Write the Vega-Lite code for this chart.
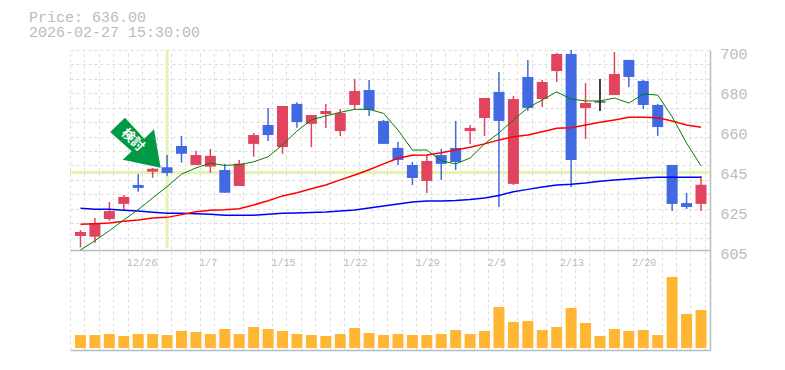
{"$schema":"https://vega.github.io/schema/vega-lite/v6.json","width":640,"height":300,"autosize":"none","padding":{"left":70,"top":50,"right":75,"bottom":20},"background":"#ffffff","view":{"stroke":null},
"title":{"text":["Price: 636.00","2026-02-27 15:30:00"],"anchor":"start","frame":"group","dx":-41,"offset":6,"font":"Liberation Mono","fontSize":15,"fontWeight":"normal","color":"#bbbbbb","lineHeight":15.5},
"datasets":{"main":[
{"i":0,"date":"12/22","dir":"up","open":611.65,"high":614.5,"low":606.3,"close":613.55,"volume":13000,"ma5":605,"ma25":617.2,"ma75":624.8},
{"i":1,"date":"12/23","dir":"up","open":611.3,"high":620.2,"low":608.5,"close":617.8,"volume":13000,"ma5":609.4,"ma25":617.5,"ma75":624.3},
{"i":2,"date":"12/24","dir":"up","open":619.7,"high":627.8,"low":618.9,"close":623.5,"volume":14000,"ma5":614.2,"ma25":617.8,"ma75":624.3},
{"i":3,"date":"12/25","dir":"up","open":626.9,"high":631.1,"low":623.5,"close":630.2,"volume":12000,"ma5":619.3,"ma25":618.6,"ma75":623.9},
{"i":4,"date":"12/26","dir":"down","open":635.9,"high":641.1,"low":632.7,"close":634.5,"volume":14000,"ma5":624.2,"ma25":619.3,"ma75":623.5},
{"i":5,"date":"12/29","dir":"up","open":642.2,"high":644,"low":639.3,"close":643.6,"volume":14000,"ma5":629.7,"ma25":620.2,"ma75":622.9},
{"i":6,"date":"12/30","dir":"down","open":644.3,"high":650.1,"low":640.3,"close":641.6,"volume":13000,"ma5":635.1,"ma25":620.5,"ma75":622.4},
{"i":7,"date":"1/5","dir":"down","open":654.4,"high":659.2,"low":646.5,"close":650.7,"volume":17000,"ma5":641,"ma25":621.8,"ma75":622.4},
{"i":8,"date":"1/6","dir":"up","open":645.4,"high":652.2,"low":645.4,"close":650.1,"volume":16000,"ma5":644,"ma25":623.2,"ma75":622.2},
{"i":9,"date":"1/7","dir":"up","open":644.6,"high":653,"low":641.7,"close":649.7,"volume":14000,"ma5":646.2,"ma25":623.9,"ma75":622},
{"i":10,"date":"1/8","dir":"down","open":643,"high":645.9,"low":632.2,"close":632.2,"volume":19000,"ma5":645.2,"ma25":624.1,"ma75":621.5},
{"i":11,"date":"1/9","dir":"up","open":635.4,"high":647.8,"low":635.4,"close":646,"volume":14000,"ma5":645.5,"ma25":624.6,"ma75":621.5},
{"i":12,"date":"1/13","dir":"up","open":655.4,"high":660.6,"low":649.3,"close":659.6,"volume":21000,"ma5":646.9,"ma25":626.4,"ma75":621.5},
{"i":13,"date":"1/14","dir":"down","open":664.4,"high":672.5,"low":656.8,"close":659.6,"volume":19000,"ma5":649.3,"ma25":628.4,"ma75":622},
{"i":14,"date":"1/15","dir":"up","open":653.9,"high":673.4,"low":650.7,"close":673.4,"volume":17000,"ma5":654.9,"ma25":630.7,"ma75":622.4},
{"i":15,"date":"1/16","dir":"down","open":674.4,"high":675.2,"low":663.1,"close":665.8,"volume":14000,"ma5":661.5,"ma25":632.2,"ma75":622.6},
{"i":16,"date":"1/19","dir":"up","open":664.9,"high":669.1,"low":653.9,"close":669.1,"volume":13000,"ma5":666.8,"ma25":634.1,"ma75":622.8},
{"i":17,"date":"1/20","dir":"up","open":669.6,"high":674.4,"low":663,"close":671,"volume":12000,"ma5":668.7,"ma25":635.9,"ma75":623},
{"i":18,"date":"1/21","dir":"up","open":661.5,"high":672,"low":659.2,"close":670.1,"volume":14000,"ma5":670.4,"ma25":638.3,"ma75":623.5},
{"i":19,"date":"1/22","dir":"up","open":673.9,"high":686.2,"low":672,"close":680.5,"volume":20000,"ma5":671.8,"ma25":640.6,"ma75":624},
{"i":20,"date":"1/23","dir":"down","open":681,"high":685.8,"low":668.7,"close":671.5,"volume":15000,"ma5":671.8,"ma25":643.1,"ma75":625},
{"i":21,"date":"1/26","dir":"down","open":666.3,"high":666.8,"low":655.4,"close":655.4,"volume":13000,"ma5":669.9,"ma25":645.9,"ma75":625.9},
{"i":22,"date":"1/27","dir":"down","open":653.5,"high":656.3,"low":645.4,"close":647.8,"volume":14000,"ma5":662,"ma25":648.6,"ma75":626.9},
{"i":23,"date":"1/28","dir":"down","open":645.4,"high":646.8,"low":635.9,"close":639.2,"volume":13000,"ma5":652.5,"ma25":650,"ma75":627.8},
{"i":24,"date":"1/29","dir":"up","open":637.8,"high":650.1,"low":632.1,"close":647.3,"volume":13000,"ma5":652.5,"ma25":650.1,"ma75":628.3},
{"i":25,"date":"1/30","dir":"down","open":650.1,"high":653,"low":638.3,"close":645.9,"volume":14000,"ma5":647.4,"ma25":651.2,"ma75":628.3},
{"i":26,"date":"2/2","dir":"down","open":653.5,"high":666.3,"low":643,"close":646.8,"volume":18000,"ma5":645.9,"ma25":652.5,"ma75":628.5},
{"i":27,"date":"2/3","dir":"up","open":661.5,"high":664.4,"low":655.4,"close":663,"volume":14000,"ma5":648.7,"ma25":653.8,"ma75":629},
{"i":28,"date":"2/4","dir":"up","open":667.7,"high":677.2,"low":659.2,"close":677.2,"volume":17000,"ma5":655.4,"ma25":655.4,"ma75":629.7},
{"i":29,"date":"2/5","dir":"down","open":680.1,"high":689.6,"low":625.4,"close":666.3,"volume":41000,"ma5":660.6,"ma25":657.3,"ma75":630.9},
{"i":30,"date":"2/6","dir":"up","open":636.4,"high":678.2,"low":635.9,"close":676.7,"volume":26000,"ma5":666.8,"ma25":658.8,"ma75":632.7},
{"i":31,"date":"2/9","dir":"down","open":687.2,"high":695.3,"low":671,"close":672.5,"volume":27000,"ma5":672.5,"ma25":659.6,"ma75":633.8},
{"i":32,"date":"2/10","dir":"up","open":676.7,"high":685.8,"low":672.9,"close":684.8,"volume":18000,"ma5":676.3,"ma25":661.2,"ma75":634.9},
{"i":33,"date":"2/12","dir":"up","open":690,"high":698.6,"low":684.8,"close":698.1,"volume":21000,"ma5":680.1,"ma25":662.8,"ma75":635.9},
{"i":34,"date":"2/13","dir":"down","open":698.1,"high":700,"low":634.9,"close":647.8,"volume":40000,"ma5":676.7,"ma25":663.1,"ma75":636.2},
{"i":35,"date":"2/16","dir":"up","open":672.5,"high":684.3,"low":657.7,"close":674.8,"volume":25000,"ma5":675.8,"ma25":664.4,"ma75":636.8},
{"i":36,"date":"2/17","dir":"flat","open":675.55,"high":686.2,"low":671,"close":675.1,"volume":12000,"ma5":675.8,"ma25":665.7,"ma75":637.6},
{"i":37,"date":"2/18","dir":"up","open":678.6,"high":699,"low":678.6,"close":688.6,"volume":19000,"ma5":677.2,"ma25":666.8,"ma75":638.3},
{"i":38,"date":"2/19","dir":"down","open":695.3,"high":695.3,"low":682.4,"close":687.2,"volume":17000,"ma5":674.8,"ma25":668,"ma75":638.7},
{"i":39,"date":"2/20","dir":"down","open":685.3,"high":685.8,"low":672,"close":673.9,"volume":18000,"ma5":679.1,"ma25":668,"ma75":639.2},
{"i":40,"date":"2/24","dir":"down","open":673.9,"high":674.4,"low":659.2,"close":663.4,"volume":13000,"ma5":678.6,"ma25":667.8,"ma75":639.5},
{"i":41,"date":"2/25","dir":"down","open":645.4,"high":645.4,"low":623.5,"close":626.9,"volume":71000,"ma5":668.3,"ma25":666.3,"ma75":639.5},
{"i":42,"date":"2/26","dir":"down","open":627.3,"high":632.1,"low":624.5,"close":625.4,"volume":34000,"ma5":655.8,"ma25":664.4,"ma75":639.5},
{"i":43,"date":"2/27","dir":"up","open":626.9,"high":640.2,"low":623.5,"close":636,"volume":38000,"ma5":645,"ma25":663.3,"ma75":639.5}
]},
"data":{"name":"main"},
"layer":[
{"mark":{"type":"rule","opacity":0},"encoding":{
"x":{"field":"i","type":"quantitative","scale":{"domain":[-0.7277,43.624],"nice":false,"zero":false,"padding":0},"axis":{"orient":"bottom","title":null,"values":[-0.7277,0.2723,1.2723,2.2723,3.2723,4.2723,5.2723,6.2723,7.2723,8.2723,9.2723,10.2723,11.2723,12.2723,13.2723,14.2723,15.2723,16.2723,17.2723,18.2723,19.2723,20.2723,21.2723,22.2723,23.2723,24.2723,25.2723,26.2723,27.2723,28.2723,29.2723,30.2723,31.2723,32.2723,33.2723,34.2723,35.2723,36.2723,37.2723,38.2723,39.2723,40.2723,41.2723,42.2723,43.2723],"grid":true,"gridColor":"#dddddd","gridDash":[3,3],"gridWidth":1,"labels":false,"ticks":false,"domain":true,"domainColor":"#bbbbbb","domainWidth":1.5}}}},
{"mark":{"type":"rule","opacity":0},"encoding":{
"x":{"field":"i","type":"quantitative","scale":{"domain":[-0.7277,43.624],"nice":false,"zero":false,"padding":0},"axis":{"orient":"bottom","offset":-100,"title":null,"values":[4,9,14,19,24,29,34,39],"labelExpr":"{'4':'12/26','9':'1/7','14':'1/15','19':'1/22','24':'1/29','29':'2/5','34':'2/13','39':'2/20'}[datum.value]","grid":false,"ticks":false,"domain":true,"domainColor":"#bbbbbb","domainWidth":1.5,"labelFont":"Liberation Mono","labelFontSize":10,"labelColor":"#bbbbbb","labelAlign":"left","labelBaseline":"top","labelOffset":-11.6,"labelPadding":7,"labelFlush":false,"labelOverlap":false,"labelBound":false}}}},
{"mark":{"type":"rule","opacity":0},"encoding":{
"x":{"field":"i","type":"quantitative","scale":{"domain":[-0.7277,43.624],"nice":false,"zero":false,"padding":0},"axis":null},
"y":{"field":"close","type":"quantitative","scale":{"domain":[605,700],"range":[200,0],"nice":false,"zero":false},"axis":{"orient":"left","title":null,"values":[700,693.15,686.29,679.44,672.58,665.73,658.88,652.02,645.17,638.31,631.46,624.6,617.75,610.9],"grid":true,"gridColor":"#dddddd","gridDash":[3,3],"gridWidth":1,"labels":false,"ticks":false,"domain":false}}}},
{"mark":{"type":"rule","opacity":0},"encoding":{
"x":{"field":"i","type":"quantitative","scale":{"domain":[-0.7277,43.624],"nice":false,"zero":false,"padding":0},"axis":null},
"y":{"field":"close","type":"quantitative","scale":{"domain":[605,700],"range":[200,0],"nice":false,"zero":false},"axis":{"orient":"right","title":null,"values":[605,624,643,662,681,700],"labelExpr":"round(datum.value/5)*5","grid":false,"ticks":false,"domain":true,"domainColor":"#bbbbbb","domainWidth":1.5,"labelFont":"Liberation Mono","labelFontSize":15,"labelColor":"#bbbbbb","labelPadding":10,"labelOffset":3,"labelFlush":false,"labelOverlap":false,"labelBound":false}}}},
{"mark":{"type":"bar","size":11,"color":"#ffb733"},"encoding":{
"x":{"field":"i","type":"quantitative","scale":{"domain":[-0.7277,43.624],"nice":false,"zero":false,"padding":0},"axis":null},
"y":{"field":"volume","type":"quantitative","scale":{"domain":[-2000,98000],"range":[300,200],"nice":false,"zero":false},"axis":{"orient":"right","title":null,"labels":false,"ticks":false,"grid":false,"domain":true,"domainColor":"#bbbbbb","domainWidth":1.5}},
"y2":{"datum":0}}},
{"layer":[
{"data":{"values":[{"level":641.8}]},"mark":{"type":"rule","color":"#e5f3b0","strokeWidth":3},"encoding":{
"y":{"field":"level","type":"quantitative","scale":{"domain":[605,700],"range":[200,0],"nice":false,"zero":false},"axis":null}}},
{"data":{"values":[{"i":6,"from":700,"to":606}]},"mark":{"type":"rule","color":"#e5f3b0","strokeWidth":3},"encoding":{
"x":{"field":"i","type":"quantitative","scale":{"domain":[-0.7277,43.624],"nice":false,"zero":false,"padding":0},"axis":null},
"y":{"field":"from","type":"quantitative","scale":{"domain":[605,700],"range":[200,0],"nice":false,"zero":false},"axis":null},
"y2":{"field":"to"}}},
{"mark":{"type":"rule","strokeWidth":1.5},"encoding":{
"x":{"field":"i","type":"quantitative","scale":{"domain":[-0.7277,43.624],"nice":false,"zero":false,"padding":0},"axis":null},
"y":{"field":"low","type":"quantitative","scale":{"domain":[605,700],"range":[200,0],"nice":false,"zero":false},"axis":null},
"y2":{"field":"high"},
"color":{"field":"dir","type":"nominal","scale":{"domain":["up","down","flat"],"range":["#e0445f","#4169e1","#000000"]},"legend":null}}},
{"mark":{"type":"bar","size":11},"encoding":{
"x":{"field":"i","type":"quantitative","scale":{"domain":[-0.7277,43.624],"nice":false,"zero":false,"padding":0},"axis":null},
"y":{"field":"open","type":"quantitative","scale":{"domain":[605,700],"range":[200,0],"nice":false,"zero":false},"axis":null},
"y2":{"field":"close"},
"color":{"field":"dir","type":"nominal","scale":{"domain":["up","down","flat"],"range":["#e0445f","#4169e1","#000000"]},"legend":null}}},
{"mark":{"type":"line","color":"#0000ff","strokeWidth":1.5},"encoding":{
"x":{"field":"i","type":"quantitative","scale":{"domain":[-0.7277,43.624],"nice":false,"zero":false,"padding":0},"axis":null},
"y":{"field":"ma75","type":"quantitative","scale":{"domain":[605,700],"range":[200,0],"nice":false,"zero":false},"axis":null}}},
{"mark":{"type":"line","color":"#ff0000","strokeWidth":1.5},"encoding":{
"x":{"field":"i","type":"quantitative","scale":{"domain":[-0.7277,43.624],"nice":false,"zero":false,"padding":0},"axis":null},
"y":{"field":"ma25","type":"quantitative","scale":{"domain":[605,700],"range":[200,0],"nice":false,"zero":false},"axis":null}}},
{"mark":{"type":"line","color":"#008000","strokeWidth":1},"encoding":{
"x":{"field":"i","type":"quantitative","scale":{"domain":[-0.7277,43.624],"nice":false,"zero":false,"padding":0},"axis":null},
"y":{"field":"ma5","type":"quantitative","scale":{"domain":[605,700],"range":[200,0],"nice":false,"zero":false},"axis":null}}},
{"data":{"values":[{"i":3.8,"price":656}]},"mark":{"type":"point","filled":true,"opacity":1,"color":"#009944","size":2560,"shape":"M-0.409 -0.988L0.354 -0.158L0.737 -0.53L1 0.988L-0.498 0.672L-0.142 0.34L-0.994 -0.423Z"},"encoding":{
"x":{"field":"i","type":"quantitative","scale":{"domain":[-0.7277,43.624],"nice":false,"zero":false,"padding":0},"axis":null},
"y":{"field":"price","type":"quantitative","scale":{"domain":[605,700],"range":[200,0],"nice":false,"zero":false},"axis":null}}},
{"data":{"values":[{"i":3.63,"price":657.25,"note":"検討"}]},"mark":{"type":"text","color":"#ffffff","font":"Noto Sans CJK JP","fontWeight":"bold","fontSize":13,"angle":45},"encoding":{
"x":{"field":"i","type":"quantitative","scale":{"domain":[-0.7277,43.624],"nice":false,"zero":false,"padding":0},"axis":null},
"y":{"field":"price","type":"quantitative","scale":{"domain":[605,700],"range":[200,0],"nice":false,"zero":false},"axis":null},
"text":{"field":"note"}}}
]}
],
"resolve":{"scale":{"y":"independent"},"axis":{"x":"independent","y":"independent"}}}
